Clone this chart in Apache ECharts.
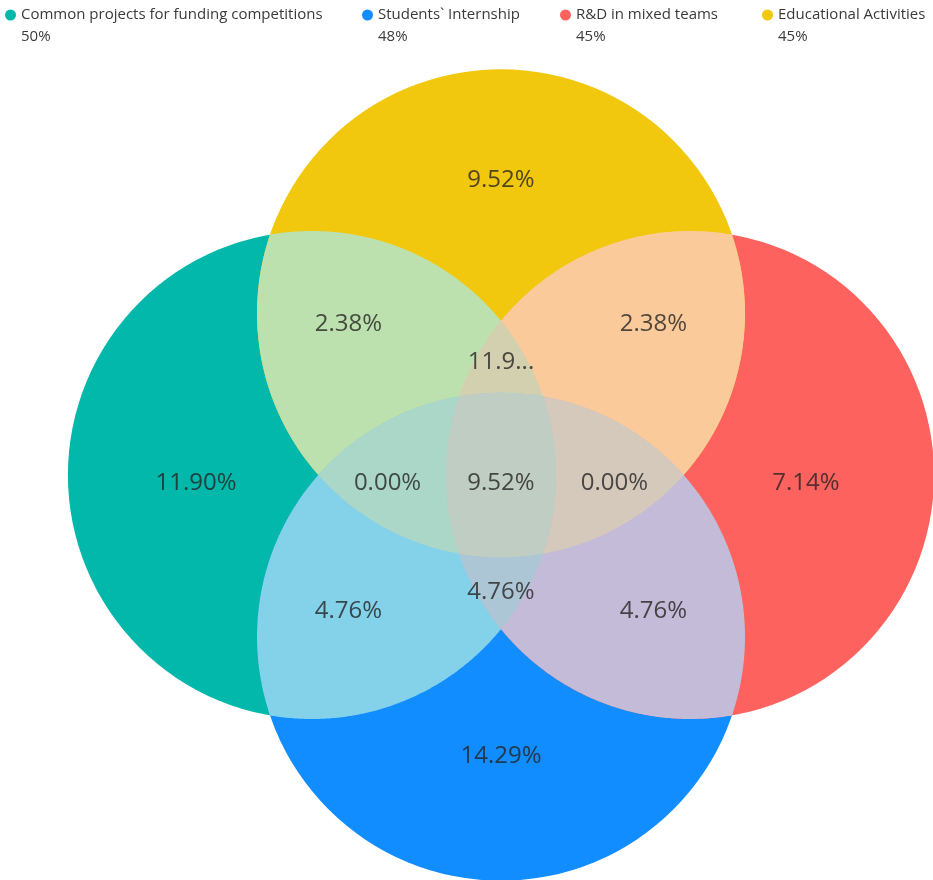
<!DOCTYPE html>
<html>
<head>
<meta charset="utf-8">
<script src="https://cdn.jsdelivr.net/npm/echarts@6/dist/echarts.min.js"></script>
<style>
  html, body { margin: 0; padding: 0; background: #ffffff; }
  #chart { width: 933px; height: 880px; }
</style>
</head>
<body>
<div id="chart"></div>
<script>
// ---- data ----
const setNames = ['Common projects for funding competitions', 'Students` Internship', 'R&D in mixed teams', 'Educational Activities'];
const setShares = ['50%', '48%', '45%', '45%'];
const setColors = ['#01B8AA', '#118DFF', '#FD625E', '#F2C80F'];

// Venn regions: member sets (indices into setNames) and their share, %
const regionSets = [[0], [3], [2], [1], [0, 3], [3, 2], [0, 1], [2, 1], [0, 3, 2], [0, 3, 1], [3, 2, 1], [0, 2, 1], [0, 1, 2, 3]];
const regionValues = [11.90, 9.52, 7.14, 14.29, 2.38, 2.38, 4.76, 4.76, 11.90, 0.00, 0.00, 4.76, 9.52];

// ---- layout (unit circles in axis space) ----
const circleCenters = [[-0.775, 0], [0, -0.663], [0.775, 0], [0, 0.663]];
const circleRadius = 1;
const labelAnchors = [[-1.25, -0.033], [0, 1.209], [1.25, -0.033], [0, -1.152],
  [-0.625, 0.619], [0.625, 0.619], [-0.625, -0.557], [0.625, -0.557],
  [0, 0.463], [-0.465, -0.033], [0.465, -0.033], [0, -0.48], [0, -0.033]];
const labelMaxWidth = { 8: 70 };

const FONT = '"Open Sans", "Noto Sans", sans-serif';

function hexToRgb(h) {
  const n = parseInt(h.slice(1), 16);
  return [(n >> 16) & 255, (n >> 8) & 255, n & 255];
}
// overlap colour: average of member colours, washed halfway to white
function regionColor(members) {
  const sum = [0, 0, 0];
  members.forEach(m => { const c = hexToRgb(setColors[m]); for (let k = 0; k < 3; k++) sum[k] += c[k]; });
  const rgb = sum.map(v => Math.round((v / members.length + 255) / 2));
  return 'rgb(' + rgb.join(',') + ')';
}

function circleGeom(api, idx) {
  const c = api.coord(circleCenters[idx]);
  const r = api.size([circleRadius, circleRadius])[0];
  return { x: c[0], y: c[1], r: r };
}

// convex intersection of several circles as a polygon
function intersectionPolygon(circles) {
  const N = 720;
  const pts = [];
  const inside = (p, c) => (p[0] - c.x) ** 2 + (p[1] - c.y) ** 2 <= c.r * c.r * (1 + 1e-6);
  circles.forEach((c, ci) => {
    for (let k = 0; k < N; k++) {
      const a = 2 * Math.PI * k / N;
      const p = [c.x + c.r * Math.cos(a), c.y + c.r * Math.sin(a)];
      if (circles.every((o, oi) => oi === ci || inside(p, o))) pts.push(p);
    }
  });
  for (let i = 0; i < circles.length; i++) {
    for (let j = i + 1; j < circles.length; j++) {
      const A = circles[i], B = circles[j];
      const dx = B.x - A.x, dy = B.y - A.y, d = Math.hypot(dx, dy);
      if (d === 0 || d > A.r + B.r) continue;
      const a = (A.r * A.r - B.r * B.r + d * d) / (2 * d);
      const h = Math.sqrt(Math.max(0, A.r * A.r - a * a));
      const px = A.x + a * dx / d, py = A.y + a * dy / d;
      [[px - h * dy / d, py + h * dx / d], [px + h * dy / d, py - h * dx / d]].forEach(p => {
        if (circles.every((o, oi) => oi === i || oi === j || inside(p, o))) pts.push(p);
      });
    }
  }
  if (!pts.length) return [];
  let cx = 0, cy = 0;
  pts.forEach(p => { cx += p[0]; cy += p[1]; });
  cx /= pts.length; cy /= pts.length;
  pts.sort((p, q) => Math.atan2(p[1] - cy, p[0] - cx) - Math.atan2(q[1] - cy, q[0] - cx));
  return pts;
}

const regionRows = regionSets.map((s, i) => [labelAnchors[i][0], labelAnchors[i][1], regionValues[i], i]);

// one series per set: its full circle
const circleSeries = setNames.map((name, i) => ({
  type: 'custom',
  name: name,
  coordinateSystem: 'cartesian2d',
  z: 2,
  silent: true,
  itemStyle: { color: setColors[i] },
  encode: { x: 0, y: 1 },
  data: regionRows.filter(r => regionSets[r[3]].length === 1 && regionSets[r[3]][0] === i),
  renderItem: function (params, api) {
    const g = circleGeom(api, i);
    return { type: 'circle', shape: { cx: g.x, cy: g.y, r: g.r }, style: { fill: setColors[i] } };
  }
}));

// overlaps painted on top, deeper intersections above shallower ones
const overlapSeries = {
  type: 'custom',
  name: 'overlaps',
  coordinateSystem: 'cartesian2d',
  z: 3,
  silent: true,
  encode: { x: 0, y: 1 },
  data: regionRows.filter(r => regionSets[r[3]].length > 1),
  renderItem: function (params, api) {
    const members = regionSets[api.value(3)];
    const poly = intersectionPolygon(members.map(m => circleGeom(api, m)));
    return {
      type: 'polygon',
      z2: members.length,
      shape: { points: poly },
      style: { fill: regionColor(members) }
    };
  }
};

const labelSeries = {
  type: 'scatter',
  name: 'labels',
  z: 5,
  silent: true,
  symbolSize: 0,
  data: regionRows.map(r => {
    const item = { value: r };
    const w = labelMaxWidth[r[3]];
    if (w) item.label = { width: w, overflow: 'truncate', ellipsis: '...' };
    return item;
  }),
  label: {
    show: true,
    position: 'inside',
    formatter: p => p.value[2].toFixed(2) + '%',
    fontFamily: FONT,
    fontSize: 24,
    color: '#252423'
  }
};

const legendLeft = [5, 362, 560, 762];

const option = {
  animation: false,
  backgroundColor: '#ffffff',
  grid: { left: 37.4, top: 11.4, width: 927.2, height: 927.2, outerBoundsMode: 'none', containLabel: false },
  xAxis: { type: 'value', min: -1.9, max: 1.9, show: false },
  yAxis: { type: 'value', min: -1.9, max: 1.9, show: false },
  legend: setNames.map((name, i) => ({
    data: [name],
    left: legendLeft[i],
    top: -18,
    padding: 0,
    icon: 'circle',
    itemWidth: 11,
    itemHeight: 11,
    selectedMode: false,
    // blank first line keeps the marker level with the name
    formatter: n => ' \n' + n + '\n' + setShares[i],
    textStyle: {
      fontFamily: FONT,
      fontSize: 15,
      color: '#3b3a39',
      lineHeight: 22
    }
  })),
  series: circleSeries.concat([overlapSeries, labelSeries])
};

const chart = echarts.init(document.getElementById('chart'), null, { renderer: 'canvas' });
chart.setOption(option);
</script>
</body>
</html>
